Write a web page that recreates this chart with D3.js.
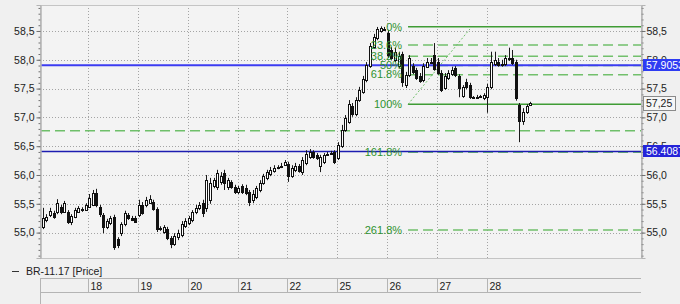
<!DOCTYPE html>
<html>
<head>
<meta charset="utf-8">
<script src="https://cdn.jsdelivr.net/npm/d3@7"></script>
<style>
  html, body { margin: 0; padding: 0; background: #f0f0f0; }
  svg { display: block; font-family: "Liberation Sans", Arial, sans-serif; font-size: 10.5px; }
</style>
</head>
<body>
<svg id="chart" width="680" height="304"></svg>
<script>
// Session labels on the time axis (hourly bars, 14 per session)
const days = ['17', '18', '19', '20', '21', '22', '25', '26', '27', '28'];
const barsPerDay = 14;

// Hourly candles [open, high, low, close]
const candles = [
    // 17
    [54.87, 55.18, 54.73, 55.10], [55.10, 55.43, 55.06, 55.25], [55.22, 55.32, 55.18, 55.27], [55.31, 55.43, 55.27, 55.38],
    [55.34, 55.38, 55.24, 55.27], [55.36, 55.58, 55.32, 55.51], [55.44, 55.48, 55.32, 55.36], [55.36, 55.55, 55.34, 55.51],
    [55.36, 55.39, 55.15, 55.18], [55.18, 55.32, 55.13, 55.29], [55.27, 55.43, 55.25, 55.39], [55.36, 55.46, 55.34, 55.43],
    [55.39, 55.44, 55.36, 55.41], [55.39, 55.51, 55.38, 55.48],
    // 18
    [55.44, 55.67, 55.43, 55.60], [55.48, 55.74, 55.46, 55.69], [55.69, 55.76, 55.44, 55.48], [55.44, 55.48, 55.27, 55.31],
    [55.31, 55.34, 54.99, 55.10], [55.10, 55.24, 55.06, 55.20], [55.17, 55.29, 55.13, 55.25], [55.27, 55.31, 54.70, 54.75],
    [54.89, 54.92, 54.73, 54.79], [54.99, 55.18, 54.94, 55.15], [55.15, 55.38, 55.11, 55.34], [55.31, 55.34, 55.22, 55.25],
    [55.25, 55.29, 55.20, 55.22], [55.25, 55.29, 55.17, 55.18],
    // 19
    [55.31, 55.57, 55.27, 55.48], [55.48, 55.53, 55.31, 55.34], [55.48, 55.62, 55.44, 55.57], [55.51, 55.65, 55.50, 55.58],
    [55.53, 55.57, 55.38, 55.41], [55.41, 55.44, 55.01, 55.06], [55.08, 55.11, 55.03, 55.06], [55.01, 55.13, 54.98, 55.10],
    [55.06, 55.10, 54.87, 54.91], [54.91, 54.94, 54.73, 54.80], [54.80, 54.99, 54.77, 54.94], [54.92, 55.05, 54.87, 54.99],
    [54.96, 55.20, 54.92, 55.15], [55.11, 55.25, 55.08, 55.20],
    // 20
    [55.17, 55.29, 55.13, 55.25], [55.22, 55.39, 55.18, 55.36], [55.36, 55.48, 55.32, 55.43], [55.43, 55.53, 55.39, 55.48],
    [55.51, 55.57, 55.27, 55.34], [55.43, 56.00, 55.36, 55.91], [55.57, 55.95, 55.50, 55.86], [55.81, 55.95, 55.77, 55.91],
    [55.79, 56.09, 55.74, 56.04], [55.88, 56.05, 55.83, 55.98], [56.04, 56.09, 55.74, 55.86], [55.79, 55.95, 55.74, 55.91],
    [55.88, 55.91, 55.76, 55.79], [55.79, 55.83, 55.67, 55.70],
    // 21
    [55.70, 55.81, 55.67, 55.77], [55.81, 55.84, 55.67, 55.70], [55.77, 55.83, 55.65, 55.69], [55.70, 55.74, 55.46, 55.53],
    [55.57, 55.74, 55.51, 55.67], [55.62, 55.81, 55.58, 55.77], [55.74, 55.91, 55.70, 55.86], [55.86, 56.02, 55.83, 55.98],
    [55.95, 56.09, 55.91, 56.05], [56.02, 56.14, 55.98, 56.09], [56.07, 56.17, 56.04, 56.12], [56.12, 56.17, 56.10, 56.14],
    [56.14, 56.21, 56.12, 56.16], [56.17, 56.26, 56.16, 56.23],
    // 22
    [56.19, 56.23, 55.88, 55.98], [55.98, 56.17, 55.95, 56.12], [56.09, 56.21, 56.05, 56.16], [56.16, 56.19, 56.04, 56.07],
    [56.05, 56.31, 56.00, 56.26], [56.21, 56.43, 56.17, 56.37], [56.31, 56.45, 56.28, 56.40], [56.40, 56.43, 56.28, 56.31],
    [56.35, 56.38, 56.26, 56.30], [56.16, 56.35, 56.05, 56.31], [56.23, 56.38, 56.19, 56.35], [56.35, 56.40, 56.33, 56.37],
    [56.37, 56.42, 56.35, 56.38], [56.40, 56.43, 56.19, 56.23],
    // 25
    [56.30, 56.57, 56.26, 56.52], [56.50, 56.87, 56.47, 56.78], [56.78, 57.04, 56.75, 56.99], [56.92, 57.30, 56.89, 57.23],
    [57.20, 57.25, 57.01, 57.06], [57.06, 57.35, 57.02, 57.30], [57.30, 57.53, 57.27, 57.48], [57.44, 57.72, 57.41, 57.67],
    [57.65, 57.96, 57.61, 57.91], [57.89, 58.29, 57.86, 58.24], [58.22, 58.45, 58.19, 58.40], [58.38, 58.57, 58.34, 58.54],
    [58.50, 58.58, 58.47, 58.55], [58.54, 58.57, 58.50, 58.52],
    // 26
    [58.47, 58.52, 58.03, 58.08], [58.17, 58.22, 58.00, 58.03], [58.00, 58.21, 57.96, 58.14], [57.89, 58.14, 57.86, 58.07],
    [58.10, 58.14, 57.53, 57.61], [57.56, 57.79, 57.51, 57.74], [57.74, 58.08, 57.70, 58.03], [57.89, 57.94, 57.75, 57.79],
    [57.82, 57.86, 57.65, 57.68], [57.72, 57.77, 57.60, 57.63], [57.65, 57.94, 57.61, 57.89], [57.87, 58.03, 57.86, 57.96],
    [57.94, 58.03, 57.93, 57.96], [58.08, 58.29, 57.81, 57.84],
    // 27
    [57.96, 58.03, 57.74, 57.77], [57.77, 57.82, 57.44, 57.48], [57.51, 57.77, 57.48, 57.72], [57.68, 57.82, 57.65, 57.77],
    [57.75, 57.88, 57.72, 57.82], [57.86, 57.89, 57.70, 57.74], [57.72, 57.75, 57.35, 57.51], [57.37, 57.56, 57.34, 57.53],
    [57.61, 57.67, 57.49, 57.53], [57.56, 57.60, 57.32, 57.35], [57.35, 57.37, 57.32, 57.34], [57.35, 57.39, 57.32, 57.36],
    [57.35, 57.39, 57.34, 57.37], [57.34, 57.42, 57.30, 57.39],
    // 28
    [57.35, 57.58, 57.08, 57.53], [57.53, 58.14, 57.49, 57.96], [57.93, 58.14, 57.89, 58.00], [57.96, 58.03, 57.88, 57.91],
    [57.93, 58.00, 57.88, 57.91], [57.93, 58.08, 57.89, 58.03], [58.01, 58.21, 57.98, 58.03], [58.03, 58.17, 57.91, 57.94],
    [57.96, 58.00, 57.29, 57.34], [57.22, 57.25, 56.57, 56.95], [56.94, 57.16, 56.87, 57.09], [57.09, 57.23, 57.06, 57.20],
    [57.22, 57.27, 57.20, 57.25]
];

const priceTicks = [55.0, 55.5, 56.0, 56.5, 57.0, 57.5, 58.0, 58.5];

// Fibonacci retracement drawn from the 26th low up to the 25th top
const fibHigh = 58.575;
const fibLow = 57.227;
const fibRatios = [0, 0.236, 0.382, 0.5, 0.618, 1, 1.618, 2.618];
const fibNames = ['0%', '23.6%', '38.2%', '50%', '61.8%', '100%', '161.8%', '261.8%'];
const fibStartBar = 103.4;
const fibEndBar = 120.8;

// User horizontal lines
const blueLevels = [57.9053, 56.4087];
const dashedLevel = 56.77;
const lastPrice = 57.25;

const svg = d3.select('#chart');
const box = { left: 40, right: 641, top: 5, bottom: 258 };

const x = d3.scaleLinear().domain([-0.5, 168.9]).range([38.5, box.right]);
const y = d3.scaleLinear().domain([54.559, 58.951]).range([box.bottom, box.top]);
const comma = v => d3.format('.1f')(v).replace('.', ',');

// plot background + frame
svg.append('rect').attr('x', 0).attr('y', 0).attr('width', 680).attr('height', 304).attr('fill', '#f0f0f0');
svg.append('rect')
    .attr('x', box.left + 0.5).attr('y', box.top + 0.5)
    .attr('width', box.right - box.left).attr('height', box.bottom - box.top)
    .attr('fill', '#f3f3f3').attr('stroke', '#c4c4c4');

svg.append('defs').append('clipPath').attr('id', 'plot')
    .append('rect').attr('x', box.left + 1).attr('y', box.top + 1)
    .attr('width', box.right - box.left - 1).attr('height', box.bottom - box.top - 1);

const plot = svg.append('g').attr('clip-path', 'url(#plot)');

// Grid
const dayStarts = days.map((d, k) => Math.round(x(k * barsPerDay - 0.5)) + 0.5);
plot.append('g').selectAll('line')
    .data(priceTicks)
    .join('line')
    .attr('x1', box.left).attr('x2', box.right)
    .attr('y1', d => Math.round(y(d)) + 0.5).attr('y2', d => Math.round(y(d)) + 0.5)
    .attr('stroke', '#a4a4a4').attr('stroke-dasharray', '1,2');
plot.append('g').selectAll('line')
    .data(dayStarts.slice(1))
    .join('line')
    .attr('x1', d => d).attr('x2', d => d)
    .attr('y1', box.top).attr('y2', box.bottom)
    .attr('stroke', '#a4a4a4').attr('stroke-dasharray', '1,2');

// Horizontal dashed line across the chart
plot.append('line')
    .attr('x1', box.left).attr('x2', box.right)
    .attr('y1', y(dashedLevel)).attr('y2', y(dashedLevel))
    .attr('stroke', '#6fbf6a').attr('stroke-width', 1.5).attr('stroke-dasharray', '10,5');

// Fibonacci levels
const fibValue = r => fibHigh - r * (fibHigh - fibLow);
const fibX0 = x(fibStartBar);
const fib = plot.append('g');
fib.selectAll('line')
    .data(fibRatios)
    .join('line')
    .attr('x1', fibX0).attr('x2', box.right)
    .attr('y1', d => y(fibValue(d))).attr('y2', d => y(fibValue(d)))
    .attr('stroke', d => (d === 0 || d === 1) ? '#3f9c35' : '#72c06c')
    .attr('stroke-width', 1.5)
    .attr('stroke-dasharray', d => (d === 0 || d === 1) ? null : '10,5');
fib.append('line')
    .attr('x1', fibX0).attr('y1', y(fibLow))
    .attr('x2', x(fibEndBar)).attr('y2', y(fibHigh - 0.04))
    .attr('stroke', '#72c06c').attr('stroke-dasharray', '2,2');

// Blue user lines
plot.append('line')
    .attr('x1', box.left).attr('x2', box.right)
    .attr('y1', y(blueLevels[0])).attr('y2', y(blueLevels[0]))
    .attr('stroke', '#3c3cf2').attr('stroke-width', 2);
plot.append('line')
    .attr('x1', box.left).attr('x2', box.right)
    .attr('y1', y(blueLevels[1])).attr('y2', y(blueLevels[1]))
    .attr('stroke', '#1c1cb0').attr('stroke-width', 1.5);

// Candles
const candle = plot.append('g').selectAll('g')
    .data(candles)
    .join('g')
    .attr('transform', (d, i) => `translate(${Math.round(x(i)) - 0.5},0)`);

candle.append('line')
    .attr('y1', d => y(d[1])).attr('y2', d => y(d[2]))
    .attr('stroke', '#1a1a1a');

candle.append('rect')
    .attr('x', -1)
    .attr('width', 2)
    .attr('y', d => Math.round(y(Math.max(d[0], d[3]))) + 0.5)
    .attr('height', d => Math.max(1, Math.round(Math.abs(y(d[0]) - y(d[3])))))
    .attr('fill', d => d[3] >= d[0] ? '#ffffff' : '#111111')
    .attr('stroke', '#111111');

// Fib labels, drawn above the candles
plot.append('g').selectAll('text')
    .data(fibRatios)
    .join('text')
    .attr('x', fibX0 - 6)
    .attr('y', d => y(fibValue(d)))
    .attr('dy', '0.35em')
    .attr('text-anchor', 'end')
    .attr('fill', '#2f922f')
    .style('font-size', '11px')
    .text((d, i) => fibNames[i]);

// Price axes with minor ticks
const minorTicks = d3.range(546, 590).map(v => v / 10);
const axisLeftMinor = d3.axisLeft(y).tickValues(minorTicks).tickSize(2).tickFormat('');
const axisRightMinor = d3.axisRight(y).tickValues(minorTicks).tickSize(2).tickFormat('');
const axisLeftMajor = d3.axisLeft(y).tickValues(priceTicks).tickSize(4).tickPadding(2).tickFormat(comma);
const axisRightMajor = d3.axisRight(y).tickValues(priceTicks).tickSize(4).tickPadding(1).tickFormat(comma);

[
    [axisLeftMinor, box.left + 0.5], [axisLeftMajor, box.left + 0.5],
    [axisRightMinor, box.right + 0.5], [axisRightMajor, box.right + 0.5]
].forEach(([ax, pos]) => {
    const g = svg.append('g').attr('transform', `translate(${pos},0)`).call(ax);
    g.select('.domain').attr('stroke', '#b4b4b4');
    g.selectAll('.tick line').attr('stroke', '#707070');
    g.selectAll('.tick text').attr('fill', '#222').style('font-size', '10.5px')
        .style('font-family', '"Liberation Sans", Arial, sans-serif');
});

// Price tags on the right axis
const tags = [
    { v: blueLevels[0], text: '57.9053', fill: '#2e3cf2', color: '#ffffff', stroke: 'none' },
    { v: blueLevels[1], text: '56.4087', fill: '#2424d8', color: '#ffffff', stroke: 'none' },
    { v: lastPrice, text: '57,25', fill: '#f6f6f6', color: '#222222', stroke: '#8a8a8a' }
];
const tag = svg.append('g').selectAll('g')
    .data(tags)
    .join('g')
    .attr('transform', d => `translate(${box.right + 2},${Math.round(y(d.v))})`);
tag.append('rect')
    .attr('x', d => d.stroke === 'none' ? 0 : 0.5)
    .attr('y', d => d.stroke === 'none' ? -6 : -6.5)
    .attr('width', d => d.stroke === 'none' ? 40 : 32)
    .attr('height', d => d.stroke === 'none' ? 12 : 14)
    .attr('fill', d => d.fill)
    .attr('stroke', d => d.stroke);
tag.append('text')
    .attr('x', 3)
    .attr('dy', '0.36em')
    .attr('fill', d => d.color)
    .text(d => d.text);

// Legend
svg.append('line')
    .attr('x1', 12).attr('x2', 19).attr('y1', 271.5).attr('y2', 271.5)
    .attr('stroke', '#333');
svg.append('text')
    .attr('x', 26).attr('y', 275)
    .attr('fill', '#222')
    .text('BR-11.17 [Price]');

// Time axis strip
const strip = svg.append('g').attr('stroke', '#b4b4b4');
strip.append('line').attr('x1', box.left).attr('x2', box.right).attr('y1', 278.5).attr('y2', 278.5);
strip.append('line').attr('x1', box.left).attr('x2', box.right).attr('y1', 292.5).attr('y2', 292.5);
strip.append('line').attr('x1', box.left + 0.5).attr('x2', box.left + 0.5).attr('y1', 278).attr('y2', 304);
strip.selectAll('.sep')
    .data(dayStarts.slice(1))
    .join('line')
    .attr('class', 'sep')
    .attr('x1', d => d).attr('x2', d => d)
    .attr('y1', 278).attr('y2', 292);

svg.append('g').selectAll('text')
    .data(days.slice(1))
    .join('text')
    .attr('x', (d, i) => dayStarts[i + 1] + 2)
    .attr('y', 289.5)
    .attr('fill', '#222')
    .text(d => d);
</script>
</body>
</html>
